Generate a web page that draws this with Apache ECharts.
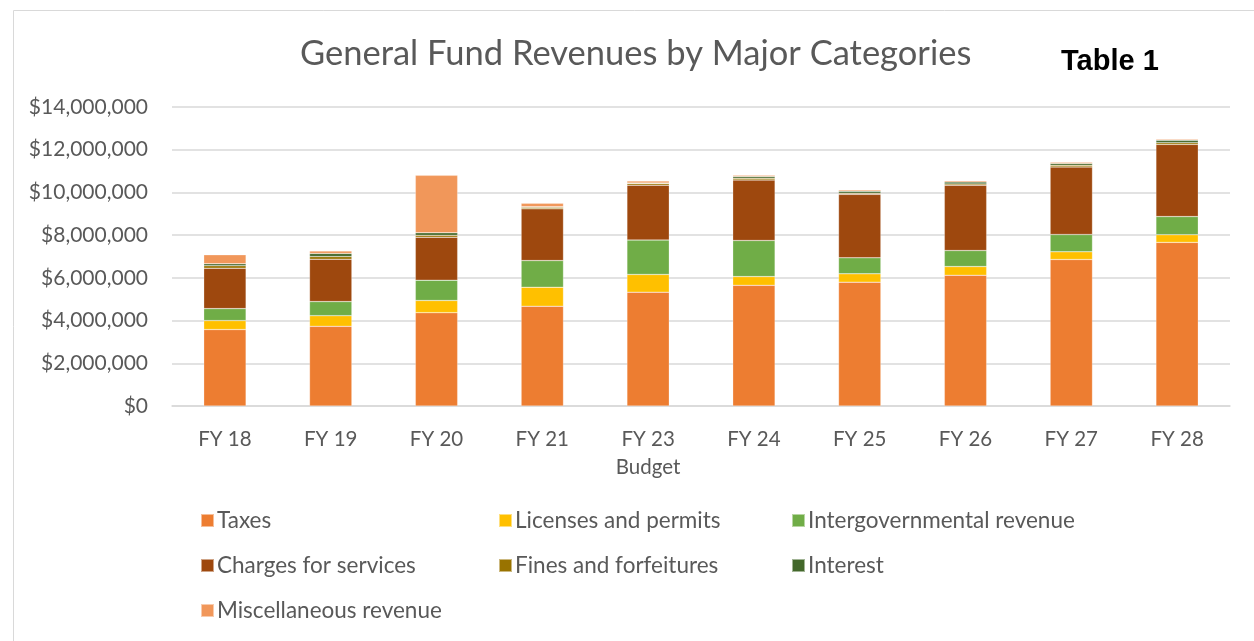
<!DOCTYPE html>
<html><head><meta charset="utf-8">
<script src="https://cdn.jsdelivr.net/npm/echarts@6/dist/echarts.min.js"></script>
<style>html,body{margin:0;padding:0;background:#fff}#c{width:1254px;height:641px}</style>
</head><body><div id="c"></div>
<script>
const categories = ['FY 18','FY 19','FY 20','FY 21','FY 23 Budget','FY 24','FY 25','FY 26','FY 27','FY 28'];
const taxes      = [3580000,3730000,4370000,4670000,5330000,5650000,5800000,6120000,6860000,7660000];
const licenses   = [420000,500000,570000,890000,830000,410000,390000,410000,360000,360000];
const intergov   = [560000,660000,950000,1250000,1610000,1690000,750000,750000,810000,850000];
const charges    = [1890000,1980000,2010000,2420000,2570000,2830000,2970000,3060000,3160000,3380000];
const fines      = [120000,130000,90000,80000,80000,80000,50000,60000,80000,80000];
const interest   = [90000,140000,120000,20000,20000,80000,90000,90000,90000,110000];
const misc       = [420000,120000,2690000,160000,90000,60000,60000,60000,50000,50000];
const seriesNames = ['Taxes','Licenses and permits','Intergovernmental revenue','Charges for services','Fines and forfeitures','Interest','Miscellaneous revenue'];
const colors = ['#ED7D31','#FFC000','#70AD47','#9E480E','#997300','#43682B','#F1975A'];

const seriesData = [taxes, licenses, intergov, charges, fines, interest, misc];
const font = 'Lato, "Open Sans", sans-serif';
const chart = echarts.init(document.getElementById('c'));
const legendCommon = {orient:'vertical', padding:0, itemWidth:13, itemHeight:13, itemGap:22, icon:'rect',
  textStyle:{color:'#595959', fontSize:22.5, lineHeight:20, fontFamily:font, padding:[0,0,0,-2]}};
chart.setOption({
  animation:false,
  color: colors,
  graphic:[{type:'rect', left:11, top:8, shape:{width:1280, height:700}, style:{fill:'none', stroke:'#d9d9d9', lineWidth:1}}],
  title:[
    {text:'General Fund Revenues by Major Categories', left:300, top:36, padding:0, textStyle:{color:'#595959', fontSize:34.5, fontWeight:'normal', fontFamily:font}},
    {text:'Table 1', left:1061, top:47, padding:0, textStyle:{color:'#000', fontSize:29, fontWeight:'bold', fontFamily:'"Liberation Sans", Arial, sans-serif'}}
  ],
  legend:[
    Object.assign({left:200, top:509, data:[seriesNames[0],seriesNames[3],seriesNames[6]]}, legendCommon),
    Object.assign({left:498, top:509, data:[seriesNames[1],seriesNames[4]]}, legendCommon),
    Object.assign({left:791, top:509, data:[seriesNames[2],seriesNames[5]]}, legendCommon)
  ],
  grid:{left:172, right:24, top:107, bottom:235, containLabel:false},
  xAxis:{type:'category', data:categories,
    axisLine:{lineStyle:{color:'#d9d9d9', width:1.5}}, axisTick:{show:false},
    axisLabel:{color:'#595959', fontSize:20.5, lineHeight:28.5, fontFamily:font, margin:19, verticalAlign:'top',
      formatter:v=>v.replace(' Budget','\nBudget')}},
  yAxis:{type:'value', min:0, max:14000000, interval:2000000,
    axisLabel:{color:'#595959', fontSize:21, fontFamily:font, margin:24,
      formatter:v=>'$'+v.toLocaleString('en-US')},
    splitLine:{lineStyle:{color:'#d9d9d9', width:1.5}}},
  series: seriesNames.map((n,i)=>({name:n, type:'bar', stack:'total', data:seriesData[i], barWidth:'40%',
    itemStyle:{borderColor:'rgba(255,255,255,0.5)', borderWidth:0.5}}))
});
</script></body></html>
